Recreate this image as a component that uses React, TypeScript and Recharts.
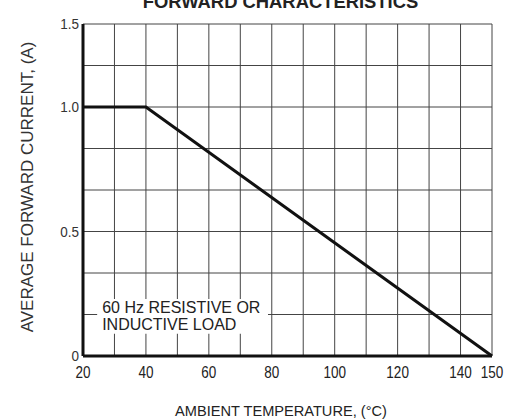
import React from 'react';
import { LineChart, Line, XAxis, YAxis, CartesianGrid, ReferenceArea } from 'recharts';

const FONT = '"Liberation Sans", Arial, Helvetica, sans-serif';

// Data
const temperatures = [20, 40, 150];
const currents = [1.0, 1.0, 0];

// Axis ticks
const xTicks = [20, 40, 60, 80, 100, 120, 140, 150];
const xGridValues = [20, 30, 40, 50, 60, 70, 80, 90, 100, 110, 120, 130, 140, 150];
const yTickValues = [0, 0.5, 1.0, 4 / 3];
const yTickLabels = ['0', '0.5', '1.0', '1.5'];
const yGridValues = [0, 1 / 6, 2 / 6, 3 / 6, 4 / 6, 5 / 6, 1, 7 / 6, 8 / 6];

// Texts
const title = 'FORWARD CHARACTERISTICS';
const xTitle = 'AMBIENT TEMPERATURE, (\u00B0C)';
const yTitle = 'AVERAGE FORWARD CURRENT, (A)';
const noteLines = ['60 Hz RESISTIVE OR', 'INDUCTIVE LOAD'];
const noteBox = { x1: 24.5, x2: 78.8, y1: 0.089, y2: 0.229 };

const data = temperatures.map((t, i) => ({ t, a: currents[i] }));

const yFormat = (v: number) => {
  const i = yTickValues.findIndex((u) => Math.abs(u - v) < 1e-6);
  return i >= 0 ? yTickLabels[i] : '';
};

const XTick = (props: any) => {
  const { x, y, payload } = props;
  return (
    <g transform={`translate(${x},${y})`}>
      <text
        transform="scale(0.82,1)"
        textAnchor="middle"
        dy="0.71em"
        fontSize={16.5}
        fill="#222"
        style={{ fontFamily: FONT }}
      >
        {payload.value}
      </text>
    </g>
  );
};

const YTick = (props: any) => {
  const { x, y, payload } = props;
  return (
    <g transform={`translate(${x},${y})`}>
      <text transform="scale(0.9,1)" dy="0.36em" textAnchor="end" fontSize={15} fill="#333" style={{ fontFamily: FONT }}>
        {yFormat(payload.value)}
      </text>
    </g>
  );
};

const NoteLabel = (props: any) => {
  const vb = props.viewBox || {};
  return (
    <g>
      {noteLines.map((s, i) => (
        <text key={i} x={vb.x + 5} y={vb.y + 14 + i * 17} fontSize={16} fill="#222" style={{ fontFamily: FONT }}>
          {s}
        </text>
      ))}
    </g>
  );
};

export default function App() {
  return (
    <div style={{ position: 'absolute', left: 0, top: 0, width: 507, height: 419, background: '#fff' }}>
      <LineChart width={507} height={419} data={data} margin={{ top: 24, right: 15, bottom: 33, left: 0 }}>
        <CartesianGrid
          horizontalValues={yGridValues}
          verticalValues={xGridValues}
          stroke="#444"
          strokeWidth={1}
        />
        <XAxis
          dataKey="t"
          type="number"
          domain={[20, 150]}
          ticks={xTicks}
          tick={<XTick />}
          tickLine={false}
          tickSize={6}
          tickMargin={4}
          height={30}
          axisLine={{ stroke: '#111', strokeWidth: 3 }}
          interval={0}
        />
        <YAxis
          type="number"
          domain={[0, 4 / 3]}
          ticks={yTickValues}
          tick={<YTick />}
          tickLine={false}
          tickSize={2}
          tickMargin={2}
          width={83}
          axisLine={{ stroke: '#111', strokeWidth: 3 }}
          interval={0}
        />
        <ReferenceArea
          x1={noteBox.x1}
          x2={noteBox.x2}
          y1={noteBox.y1}
          y2={noteBox.y2}
          fill="#fff"
          fillOpacity={1}
          stroke="none"
          ifOverflow="visible"
          label={<NoteLabel />}
        />
        <Line
          type="linear"
          dataKey="a"
          stroke="#111"
          strokeWidth={3}
          dot={false}
          activeDot={false}
          isAnimationActive={false}
        />
        <text x={280.5} y={8} textAnchor="middle" fontSize={18.4} fontWeight="bold" fill="#222" style={{ fontFamily: FONT }}>
          {title}
        </text>
        <text x={281} y={415.5} textAnchor="middle" fontSize={14.6} fill="#222" style={{ fontFamily: FONT }}>
          {xTitle}
        </text>
        <text
          x={27}
          y={187}
          dy="0.36em"
          textAnchor="middle"
          fontSize={17}
          fill="#333"
          style={{ fontFamily: FONT }}
          transform="rotate(-90, 27, 187)"
        >
          {yTitle}
        </text>
      </LineChart>
    </div>
  );
}
